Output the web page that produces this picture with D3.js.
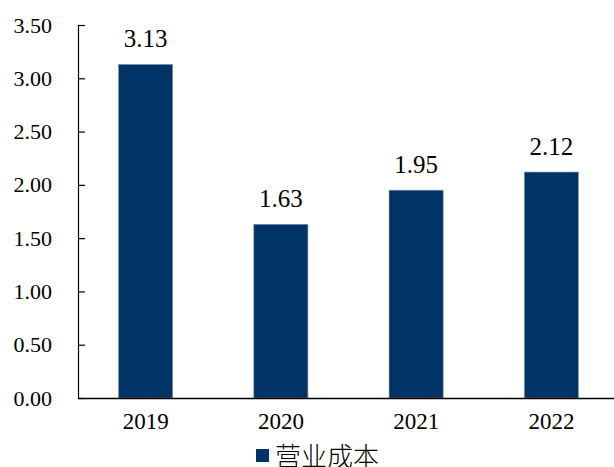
<!DOCTYPE html>
<html>
<head>
<meta charset="utf-8">
<script src="https://cdn.jsdelivr.net/npm/d3@7"></script>
<style>
  html, body { margin: 0; padding: 0; background: #fff; }
  svg { display: block; }
  .num { font-family: "Liberation Serif", "Times New Roman", Times, serif; }
</style>
</head>
<body>
<svg id="chart" width="614" height="467"></svg>
<script>
// Operating cost by year
const years = ["2019", "2020", "2021", "2022"];
const costValues = [3.13, 1.63, 1.95, 2.12];
const yTicks = [0, 0.5, 1, 1.5, 2, 2.5, 3, 3.5];
const seriesName = "营业成本";

const barColor = "#003366";

const svg = d3.select("#chart");

const x = d3.scaleBand()
  .domain(years)
  .range([78, 619])
  .paddingInner(0.6)
  .paddingOuter(0.3);

const y = d3.scaleLinear()
  .domain([0, 3.5])
  .range([398, 25]);

// Y axis: ticks point into the plot
const yAxis = svg.append("g")
  .attr("transform", "translate(78,0)")
  .call(d3.axisLeft(y).tickValues(yTicks).tickSizeInner(-7).tickSizeOuter(0)
    .tickFormat(d3.format(".2f")).tickPadding(26));
yAxis.attr("font-family", null);
yAxis.select(".domain").attr("stroke", "#000").attr("stroke-width", 1.2);
yAxis.selectAll(".tick line").attr("stroke", "#000").attr("stroke-width", 1.2);
yAxis.selectAll(".tick text")
  .attr("class", "num")
  .attr("font-size", 22)
  .attr("fill", "#000");

// Bars
svg.append("g")
  .selectAll("rect")
  .data(years.map((yr, i) => ({ yr, v: costValues[i] })))
  .join("rect")
  .attr("x", d => x(d.yr))
  .attr("y", d => y(d.v))
  .attr("width", x.bandwidth())
  .attr("height", d => y(0) - y(d.v))
  .attr("fill", barColor)
  .attr("stroke", "#7f93b0")
  .attr("stroke-width", 0.6);

// Value labels
svg.append("g")
  .selectAll("text")
  .data(years.map((yr, i) => ({ yr, v: costValues[i] })))
  .join("text")
  .attr("class", "num")
  .attr("x", d => x(d.yr) + x.bandwidth() / 2)
  .attr("y", d => y(d.v) - 17)
  .attr("text-anchor", "middle")
  .attr("font-size", 25)
  .attr("fill", "#000")
  .text(d => d.v.toFixed(2));

// X axis: baseline only, no tick marks
const xAxis = svg.append("g")
  .attr("transform", "translate(0,398)")
  .call(d3.axisBottom(x).tickSize(0).tickPadding(15));
xAxis.attr("font-family", null);
xAxis.select(".domain").attr("stroke", "#000").attr("stroke-width", 1.5);
xAxis.selectAll(".tick text")
  .attr("class", "num")
  .attr("font-size", 23)
  .attr("fill", "#000");

// Legend
const legend = svg.append("g").attr("transform", "translate(256,449)");
legend.append("rect")
  .attr("width", 13)
  .attr("height", 13)
  .attr("fill", barColor);
legend.append("text")
  .attr("x", 19)
  .attr("y", 5)
  .attr("dominant-baseline", "central")
  .attr("font-family", "'Noto Sans CJK SC', sans-serif")
  .attr("font-weight", 300)
  .attr("font-size", 26)
  .attr("fill", "#000")
  .text(seriesName);
</script>
</body>
</html>
